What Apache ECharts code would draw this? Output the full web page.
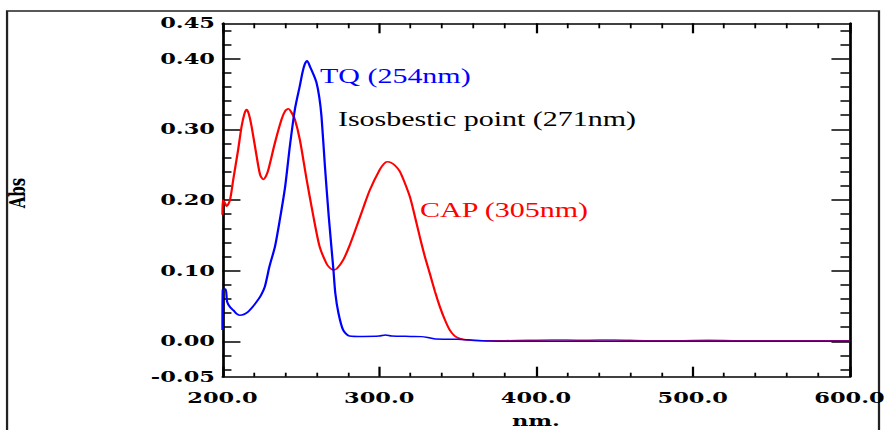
<!DOCTYPE html>
<html>
<head>
<meta charset="utf-8">
<script src="https://cdn.jsdelivr.net/npm/echarts@6/dist/echarts.min.js"></script>
<style>
  html, body { margin: 0; padding: 0; background: #fff; overflow: hidden; }
  /* the spectrum is laid out on a narrow canvas and widened 1.5x, like the instrument printout */
  #chart { width: 590px; height: 430px; transform: scaleX(1.5); transform-origin: 0 0; }
</style>
</head>
<body>
<div id="chart"></div>
<script>
// CAP spectrum (red)
const capNm = [200.0, 200.2, 201.5, 202.7, 204.8, 206.9, 210.0, 212.2, 214.0, 215.4, 216.8, 218.6,
  221.8, 224.0, 226.0, 227.8, 229.3, 233.5, 237.7, 240.0, 242.0, 244.0, 246.2, 249.4, 253.7, 258.0,
  262.0, 266.4, 268.5, 270.5, 273.0, 277.0, 281.0, 285.5, 290.0, 294.0, 300.4, 303.0, 305.0, 307.5,
  310.0, 313.0, 316.0, 319.5, 322.0, 325.9, 329.0, 332.3, 335.5, 338.7, 342.0, 345.0, 348.0, 351.4,
  356.0, 365.0, 380.0, 410.0, 430.0, 450.0, 470.0, 490.0, 510.0, 530.0, 560.0, 600.0];
const capAbs = [0.179, 0.200, 0.196, 0.191, 0.200, 0.229, 0.271, 0.304, 0.322, 0.328, 0.322, 0.304,
  0.262, 0.236, 0.229, 0.234, 0.243, 0.281, 0.314, 0.326, 0.329, 0.324, 0.314, 0.285, 0.229, 0.177,
  0.134, 0.110, 0.104, 0.101, 0.103, 0.115, 0.135, 0.162, 0.190, 0.214, 0.243, 0.251, 0.254, 0.253,
  0.249, 0.241, 0.226, 0.205, 0.184, 0.148, 0.121, 0.096, 0.071, 0.049, 0.030, 0.016, 0.008, 0.004,
  0.002, 0.001, 0.001, 0.002, 0.0015, 0.002, 0.001, 0.001, 0.0015, 0.001, 0.001, 0.001];

// TQ spectrum (blue)
const tqNm = [200.0, 200.2, 202.0, 203.0, 205.0, 207.0, 209.0, 211.0, 213.5, 216.4, 219.0, 221.8,
  224.5, 227.0, 230.0, 233.5, 236.6, 240.0, 243.0, 246.2, 249.4, 251.0, 252.5, 254.0, 255.8, 258.0,
  260.0, 261.8, 263.2, 265.4, 267.8, 270.8, 272.0, 274.0, 277.0, 281.0, 290.0, 300.0, 304.0, 308.0,
  320.0, 327.0, 332.0, 336.0, 350.0, 360.0, 370.0, 400.0, 600.0];
const tqAbs = [0.016, 0.073, 0.074, 0.056, 0.048, 0.044, 0.039, 0.037, 0.038, 0.042, 0.048, 0.056,
  0.065, 0.077, 0.106, 0.134, 0.172, 0.219, 0.276, 0.328, 0.362, 0.380, 0.392, 0.397, 0.389, 0.378,
  0.366, 0.345, 0.318, 0.247, 0.177, 0.101, 0.068, 0.040, 0.016, 0.0077, 0.007, 0.0075, 0.009, 0.0075,
  0.007, 0.0067, 0.005, 0.0034, 0.003, 0.0015, 0.0005, 0.0, 0.0];

// axis ticks and labels
const xMin = 200, xMax = 600, xStep = 100;
const yMin = -0.05, yMax = 0.45;
const yLabelValues = [-0.05, 0.00, 0.10, 0.20, 0.30, 0.40, 0.45];
const yMajorTicks = [0.00, 0.10, 0.20, 0.30, 0.40];
const yMinorTicks = [-0.04, -0.02, 0.02, 0.04, 0.06, 0.08, 0.12, 0.14, 0.16, 0.18, 0.22, 0.24,
  0.26, 0.28, 0.32, 0.34, 0.36, 0.38, 0.42, 0.44];

const pairs = (xs, ys) => xs.map((x, i) => [x, ys[i]]);

const tickFont = { fontFamily: 'DejaVu Serif', fontWeight: 'bold', fontSize: 15, color: '#000' };
const noteFont = '20px "Liberation Serif"';
const black = { color: '#000', width: 1.5 };

function yAxisDef(pos, ticks, len, withLabels) {
  return {
    type: 'value', position: pos, min: yMin, max: yMax,
    axisLine: { show: true, onZero: false, lineStyle: black },
    axisTick: { show: true, inside: true, length: len, customValues: ticks, lineStyle: black },
    axisLabel: withLabels ? Object.assign({
      show: true, margin: 5, customValues: yLabelValues,
      formatter: v => v.toFixed(2)
    }, tickFont) : { show: false },
    splitLine: { show: false },
    name: withLabels ? 'Abs' : '',
    nameLocation: 'middle', nameGap: 129,
    nameTextStyle: Object.assign({}, tickFont, { padding: [0, 0, 0, 14] })
  };
}

function xAxisDef(pos, minorLen, withLabels) {
  return {
    type: 'value', position: pos, min: xMin, max: xMax, interval: xStep,
    axisLine: { show: true, onZero: false, lineStyle: black },
    axisTick: { show: true, inside: true, length: 10, lineStyle: black },
    minorTick: { show: true, splitNumber: 5, length: minorLen, lineStyle: { color: '#000', width: 1.2 } },
    axisLabel: withLabels ? Object.assign({
      show: true, margin: 14, formatter: v => v.toFixed(1)
    }, tickFont) : { show: false },
    splitLine: { show: false },
    minorSplitLine: { show: false },
    name: withLabels ? 'nm.' : '',
    nameLocation: 'middle', nameGap: 37,
    nameTextStyle: tickFont
  };
}

const chart = echarts.init(document.getElementById('chart'), null, { renderer: 'svg' });
chart.setOption({
  animation: false,
  backgroundColor: '#fff',
  grid: {
    left: 148.3, right: 23.7, top: 23.3, bottom: 53.3,
    containLabel: false, outerBoundsMode: 'none'
  },
  xAxis: [xAxisDef('bottom', 4, true), xAxisDef('top', 5, false)],
  yAxis: [
    yAxisDef('left', yMajorTicks, 12, true),
    yAxisDef('left', yMinorTicks, 6, false),
    yAxisDef('right', yMajorTicks, 12, false),
    yAxisDef('right', yMinorTicks, 6, false)
  ],
  series: [
    {
      name: 'CAP', type: 'line', data: pairs(capNm, capAbs), xAxisIndex: 0, yAxisIndex: 0,
      showSymbol: false, smooth: 0.25, lineStyle: { color: '#ff0000', width: 1.5 }
    },
    {
      name: 'TQ', type: 'line', data: pairs(tqNm, tqAbs), xAxisIndex: 0, yAxisIndex: 0,
      showSymbol: false, smooth: 0.25, lineStyle: { color: '#0000ff', width: 1.5 }
    }
  ],
  graphic: [
    {
      type: 'rect', silent: true,
      shape: { x: 4.7, y: 11, width: 581.3, height: 440 },
      style: { fill: 'none', stroke: '#222', lineWidth: 1.5 }
    },
    {
      type: 'text', silent: true,
      style: { text: 'TQ (254nm)', x: 213.3, y: 76, font: noteFont, fill: '#0000ff', align: 'left', verticalAlign: 'middle' }
    },
    {
      type: 'text', silent: true,
      style: { text: 'Isosbestic point (271nm)', x: 225.3, y: 119, font: noteFont, fill: '#000', align: 'left', verticalAlign: 'middle' }
    },
    {
      type: 'text', silent: true,
      style: { text: 'CAP (305nm)', x: 280, y: 210, font: noteFont, fill: '#ff0000', align: 'left', verticalAlign: 'middle' }
    }
  ]
});
</script>
</body>
</html>
